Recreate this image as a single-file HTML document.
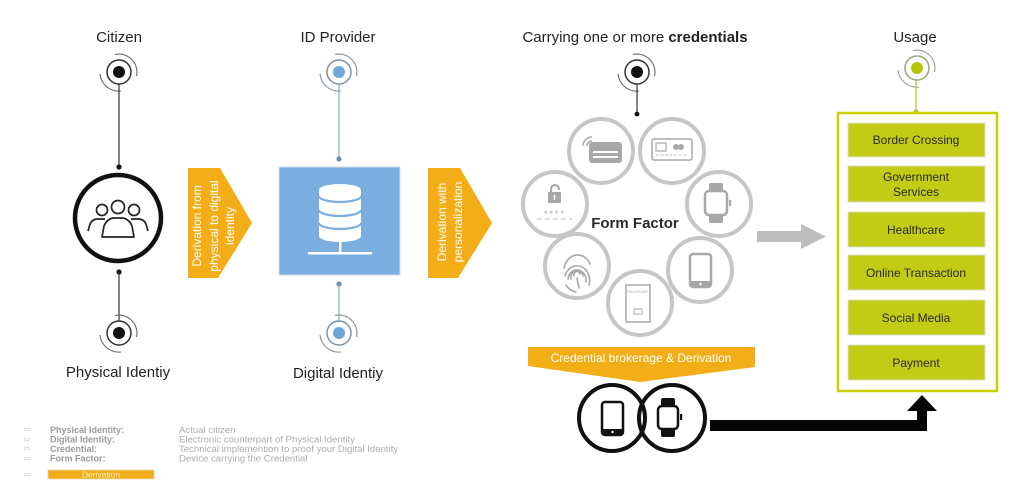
<!DOCTYPE html>
<html><head><meta charset="utf-8"><style>
html,body{margin:0;padding:0;background:#fff;}
body{width:1024px;height:499px;overflow:hidden;}
svg{display:block;font-family:"Liberation Sans","DejaVu Sans",sans-serif;}
</style></head><body>
<svg width="1024" height="499" viewBox="0 0 1024 499" xmlns="http://www.w3.org/2000/svg">
<rect width="1024" height="499" fill="#fff"/>

<!-- Titles -->
<g font-size="15" fill="#222" text-anchor="middle">
<text x="119" y="42">Citizen</text>
<text x="338" y="42">ID Provider</text>
<text x="635" y="42">Carrying one or more <tspan font-weight="bold">credentials</tspan></text>
<text x="915" y="42">Usage</text>
<text x="118" y="377">Physical Identiy</text>
<text x="338" y="378">Digital Identiy</text>
</g>

<!-- Citizen column -->
<g transform="translate(119,72)">
<circle r="6" fill="#111"/><circle r="12" fill="none" stroke="#333" stroke-width="1.5"/>
<path d="M -4 -17.5 A 18 18 0 0 1 17.5 4" fill="none" stroke="#666" stroke-width="1.1"/>
<path d="M -19 2 A 19 19 0 0 0 2 19" fill="none" stroke="#666" stroke-width="1.1"/>
</g>
<line x1="119" y1="84" x2="119" y2="167" stroke="#333" stroke-width="1.2"/>
<circle cx="119" cy="167" r="2.6" fill="#111"/>
<circle cx="118" cy="218" r="43" fill="#fff" stroke="#111" stroke-width="4.5"/>
<g fill="none" stroke="#222" stroke-width="1.7" stroke-linejoin="round">
<circle cx="102" cy="210" r="5.5"/>
<circle cx="134" cy="210" r="5.5"/>
<path d="M 88 231 L 90 224 Q 92 219.5 97 219 L 105 219"/>
<path d="M 148 231 L 146 224 Q 144 219.5 139 219 L 131 219"/>
<path d="M 102 237 L 104 226 Q 107 219 113 218 L 123 218 Q 129 219 132 226 L 134 237 Z" fill="#fff"/>
<circle cx="118" cy="207" r="6.5" fill="#fff"/>
</g>
<circle cx="119" cy="272" r="2.6" fill="#111"/>
<line x1="119" y1="272" x2="119" y2="321" stroke="#333" stroke-width="1.2"/>
<g transform="translate(119,333)">
<circle r="6" fill="#111"/><circle r="12" fill="none" stroke="#333" stroke-width="1.5"/>
<path d="M -4 -17.5 A 18 18 0 0 1 17.5 4" fill="none" stroke="#666" stroke-width="1.1"/>
<path d="M -19 2 A 19 19 0 0 0 2 19" fill="none" stroke="#666" stroke-width="1.1"/>
</g>

<!-- Arrow 1 -->
<polygon points="188,168 220,168 252,223 218,278 188,278" fill="#f2ad17"/>
<g transform="translate(213,226) rotate(-90)" fill="#fff" font-size="12" text-anchor="middle">
<text x="0" y="-12">Derivation from</text>
<text x="0" y="5">physical to digital</text>
<text x="0" y="21">identity</text>
</g>

<!-- ID Provider column -->
<g transform="translate(339,72)">
<circle r="6" fill="#6fa6da"/><circle r="12" fill="none" stroke="#7f93a5" stroke-width="1.5"/>
<path d="M -4 -17.5 A 18 18 0 0 1 17.5 4" fill="none" stroke="#889" stroke-width="1.1"/>
<path d="M -19 2 A 19 19 0 0 0 2 19" fill="none" stroke="#889" stroke-width="1.1"/>
</g>
<line x1="339" y1="84" x2="339" y2="159" stroke="#89a9c6" stroke-width="1.2"/>
<circle cx="339" cy="159" r="2.6" fill="#6f8fae"/>
<rect x="279" y="167" width="121" height="108" fill="#7aaede" stroke="#cfdde9" stroke-width="1"/>
<g fill="#fff">
<rect x="319" y="190" width="42" height="46"/>
<ellipse cx="340" cy="190" rx="21" ry="6"/>
<ellipse cx="340" cy="236" rx="21" ry="6"/>
<rect x="339" y="241" width="2.5" height="12"/>
<rect x="308" y="252" width="64" height="2.5"/>
</g>
<g fill="none" stroke="#7aaede" stroke-width="2.2">
<path d="M 319 196 A 21 6 0 0 0 361 196"/>
<path d="M 319 210 A 21 6 0 0 0 361 210"/>
<path d="M 319 223 A 21 6 0 0 0 361 223"/>
</g>
<circle cx="339" cy="284" r="2.6" fill="#6f8fae"/>
<line x1="339" y1="284" x2="339" y2="321" stroke="#89a9c6" stroke-width="1.2"/>
<g transform="translate(339,333)">
<circle r="6" fill="#6fa6da"/><circle r="12" fill="none" stroke="#7f93a5" stroke-width="1.5"/>
<path d="M -4 -17.5 A 18 18 0 0 1 17.5 4" fill="none" stroke="#889" stroke-width="1.1"/>
<path d="M -19 2 A 19 19 0 0 0 2 19" fill="none" stroke="#889" stroke-width="1.1"/>
</g>

<!-- Arrow 2 -->
<polygon points="428,168 460,168 492,223 458,278 428,278" fill="#f2ad17"/>
<g transform="translate(449,222) rotate(-90)" fill="#fff" font-size="12" text-anchor="middle">
<text x="0" y="-3">Derivation with</text>
<text x="0" y="13">personalization</text>
</g>

<!-- Form factor -->
<g transform="translate(637,72)">
<circle r="6" fill="#111"/><circle r="12" fill="none" stroke="#333" stroke-width="1.5"/>
<path d="M -4 -17.5 A 18 18 0 0 1 17.5 4" fill="none" stroke="#666" stroke-width="1.1"/>
<path d="M -19 2 A 19 19 0 0 0 2 19" fill="none" stroke="#666" stroke-width="1.1"/>
</g>
<line x1="637" y1="84" x2="637" y2="114" stroke="#333" stroke-width="1.2"/>
<circle cx="637" cy="114" r="2.4" fill="#111"/>

<g fill="none" stroke="#c6c6c6" stroke-width="4">
<circle cx="601" cy="151" r="32"/>
<circle cx="672" cy="151" r="32"/>
<circle cx="719" cy="204" r="32"/>
<circle cx="700" cy="270" r="32"/>
<circle cx="640" cy="303" r="32"/>
<circle cx="577" cy="266" r="32"/>
<circle cx="555" cy="204" r="32"/>
</g>
<text x="635" y="228" font-size="15" font-weight="bold" fill="#2a2a2a" text-anchor="middle">Form Factor</text>

<!-- A contactless card -->
<rect x="589" y="142" width="33" height="21" rx="3" fill="#a8a8a8"/>
<rect x="593" y="151" width="25" height="2" fill="#fff"/>
<rect x="593" y="156" width="25" height="2" fill="#fff"/>
<path d="M 583 146 A 9 9 0 0 1 592 137" fill="none" stroke="#a8a8a8" stroke-width="1.5"/>
<path d="M 587 146 A 5 5 0 0 1 592 141" fill="none" stroke="#a8a8a8" stroke-width="1.5"/>
<!-- B chip card -->
<rect x="652" y="139" width="40" height="21" rx="2" fill="none" stroke="#a8a8a8" stroke-width="1.5"/>
<rect x="656" y="143" width="10" height="8" fill="none" stroke="#a8a8a8" stroke-width="1.2"/>
<circle cx="676" cy="147" r="3" fill="#a8a8a8"/>
<circle cx="681" cy="147" r="3" fill="#a8a8a8"/>
<line x1="656" y1="155" x2="688" y2="155" stroke="#bbb" stroke-width="1" stroke-dasharray="3,1.5"/>
<!-- C watch -->
<rect x="709" y="183" width="14" height="9" rx="2" fill="#a8a8a8"/>
<rect x="709" y="214" width="14" height="9" rx="2" fill="#a8a8a8"/>
<rect x="705" y="191" width="22" height="24" rx="4" fill="#fff" stroke="#a8a8a8" stroke-width="2.5"/>
<rect x="729" y="200" width="2.2" height="6" fill="#a8a8a8"/>
<!-- D phone -->
<rect x="690" y="254" width="21" height="33" rx="3" fill="none" stroke="#a8a8a8" stroke-width="2.5"/>
<rect x="690" y="281" width="21" height="6" fill="#a8a8a8"/>
<circle cx="700.5" cy="284" r="1.2" fill="#fff"/>
<!-- E passport -->
<rect x="626" y="285" width="24" height="37" fill="none" stroke="#a8a8a8" stroke-width="1.5"/>
<text x="638" y="293" font-size="4" fill="#a8a8a8" text-anchor="middle">PASSPORT</text>
<rect x="634" y="309" width="8" height="5" fill="none" stroke="#a8a8a8" stroke-width="1"/>
<!-- F fingerprint -->
<g fill="none" stroke="#a8a8a8" stroke-width="1.6" stroke-linecap="round">
<path d="M 574 276 A 3 3.5 0 1 1 580 274"/>
<path d="M 571 279 A 6 7 0 1 1 583 276"/>
<path d="M 568 279 A 9 10.5 0 1 1 586 282"/>
<path d="M 565 276 A 12 14 0 1 1 589 285"/>
<path d="M 564 268 A 14 17 0 0 1 590 264"/>
<path d="M 566 285 Q 570 291 576 292"/>
<path d="M 577 278 L 579 288"/>
</g>
<!-- G lock -->
<path d="M 551 193 V 189 A 4 4 0 0 1 559 189 V 190" fill="none" stroke="#a8a8a8" stroke-width="2"/>
<rect x="548" y="192" width="13" height="11" fill="#a8a8a8"/>
<rect x="553.8" y="195" width="1.5" height="5" fill="#fff"/>
<text x="555" y="217" font-size="9" fill="#a8a8a8" text-anchor="middle" letter-spacing="2">****</text>
<line x1="537" y1="219" x2="572" y2="219" stroke="#bbb" stroke-width="1" stroke-dasharray="5,3"/>

<!-- Brokerage banner -->
<polygon points="528,347 755,347 755,367 640,382 528,366" fill="#f2ad17"/>
<text x="641" y="362" font-size="12" fill="#fff" text-anchor="middle">Credential brokerage &amp; Derivation</text>

<!-- Overlapping circles -->
<circle cx="612" cy="418" r="33" fill="none" stroke="#111" stroke-width="4"/>
<circle cx="672" cy="418" r="33" fill="none" stroke="#111" stroke-width="4"/>
<rect x="602" y="402" width="21" height="33" rx="3" fill="none" stroke="#111" stroke-width="2.5"/>
<rect x="602" y="429" width="21" height="6" fill="#111"/>
<circle cx="612.5" cy="432" r="1.2" fill="#fff"/>
<rect x="661" y="398" width="14" height="10" rx="2" fill="#111"/>
<rect x="661" y="427" width="14" height="10" rx="2" fill="#111"/>
<rect x="658" y="406" width="20" height="23" rx="4" fill="#fff" stroke="#111" stroke-width="2.5"/>
<rect x="680" y="414" width="2.2" height="6" fill="#111"/>

<!-- Black elbow arrow -->
<rect x="710" y="420" width="217" height="11" fill="#050505"/>
<rect x="917" y="409" width="10" height="22" fill="#050505"/>
<polygon points="907,411 937,411 922,395" fill="#050505"/>

<!-- Gray arrow -->
<rect x="757" y="231" width="46" height="11" fill="#bdbdbd"/>
<polygon points="801,224 826,236.5 801,249" fill="#bdbdbd"/>

<!-- Usage -->
<g transform="translate(917,68)">
<circle r="6" fill="#b6c40a"/><circle r="12" fill="none" stroke="#9aa57a" stroke-width="1.5"/>
<path d="M -4 -17.5 A 18 18 0 0 1 17.5 4" fill="none" stroke="#999" stroke-width="1.1"/>
<path d="M -19 2 A 19 19 0 0 0 2 19" fill="none" stroke="#999" stroke-width="1.1"/>
</g>
<line x1="916" y1="80" x2="916" y2="113" stroke="#b4c020" stroke-width="1.2"/>
<circle cx="916" cy="112" r="2.6" fill="#b4c020"/>
<rect x="838" y="113" width="159" height="278" fill="#fff" stroke="#c7d300" stroke-width="2.5"/>
<g fill="#c3cc14" stroke="#dcdcc4" stroke-width="1">
<rect x="848" y="123" width="137" height="34"/>
<rect x="848" y="166" width="137" height="36"/>
<rect x="848" y="212" width="137" height="35"/>
<rect x="848" y="255" width="137" height="35"/>
<rect x="848" y="300" width="137" height="35"/>
<rect x="848" y="345" width="137" height="35"/>
</g>
<g font-size="12" fill="#2a2a2a" text-anchor="middle">
<text x="916" y="144">Border Crossing</text>
<text x="916" y="181">Government</text>
<text x="916" y="196">Services</text>
<text x="916" y="234">Healthcare</text>
<text x="916" y="277">Online Transaction</text>
<text x="916" y="322">Social Media</text>
<text x="916" y="367">Payment</text>
</g>

<!-- Legend -->
<g font-size="8" fill="#b5b5b5" font-family="DejaVu Sans, sans-serif">
<text x="24" y="432">⇨</text>
<text x="24" y="442">⇨</text>
<text x="24" y="451">⇨</text>
<text x="24" y="461">⇨</text>
<text x="24" y="477">⇨</text>
</g>
<g font-size="9" font-weight="bold" fill="#9a9a9a">
<text x="50" y="433">Physical Identity:</text>
<text x="50" y="442.5">Digital Identity:</text>
<text x="50" y="452">Credential:</text>
<text x="50" y="461.5">Form Factor:</text>
</g>
<g font-size="9.6" fill="#adadad">
<text x="179" y="433">Actual citizen</text>
<text x="179" y="442.5">Electronic counterpart of Physical Identity</text>
<text x="179" y="452">Technical implemention to proof your Digital Identity</text>
<text x="179" y="461.5">Device carrying the Credential</text>
</g>
<rect x="48" y="470" width="106" height="9" fill="#f0ac18" stroke="#e6d9b0" stroke-width="0.8"/>
<text x="101" y="477.5" font-size="8.5" fill="#fff3c0" text-anchor="middle">Derivation</text>
</svg>
</body></html>
